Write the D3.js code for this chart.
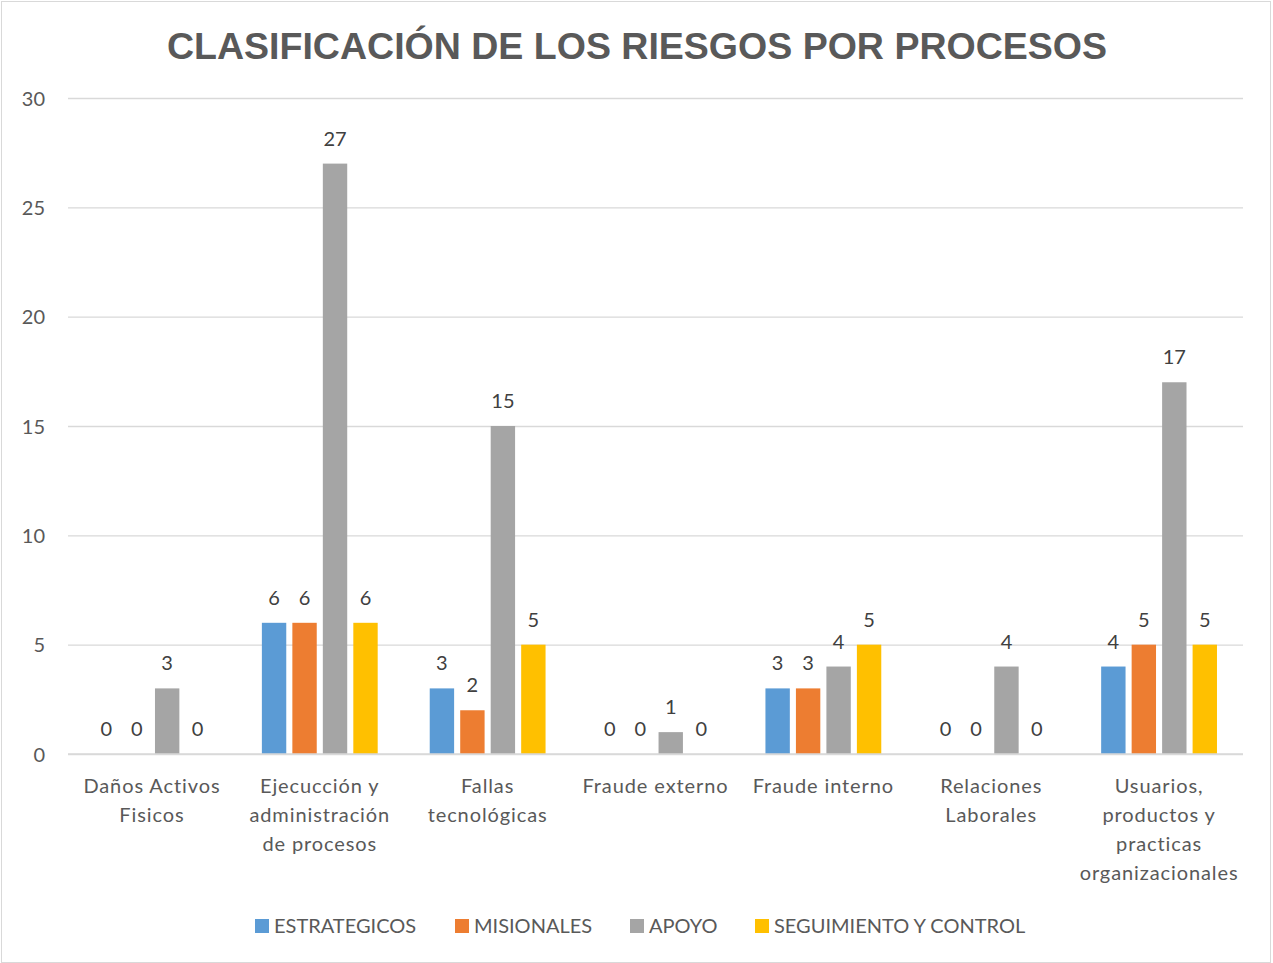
<!DOCTYPE html>
<html>
<head>
<meta charset="utf-8">
<script src="https://cdn.jsdelivr.net/npm/d3@7"></script>
<style>
	body { margin: 0; background: #fff; }
	svg text { font-family: Lato, "Open Sans", sans-serif; }
</style>
</head>
<body>
<div id="chart"></div>
<script>
var categories = [
	["Daños Activos", "Fisicos"],
	["Ejecucción y", "administración", "de procesos"],
	["Fallas", "tecnológicas"],
	["Fraude externo"],
	["Fraude interno"],
	["Relaciones", "Laborales"],
	["Usuarios,", "productos y", "practicas", "organizacionales"]
];
var seriesNames = ["ESTRATEGICOS", "MISIONALES", "APOYO", "SEGUIMIENTO Y CONTROL"];
var seriesColors = ["#5b9bd5", "#ed7d31", "#a5a5a5", "#ffc000"];
var estrategicos = [0, 6, 3, 0, 3, 0, 4];
var misionales = [0, 6, 2, 0, 3, 0, 5];
var apoyo = [3, 27, 15, 1, 4, 4, 17];
var seguimiento = [0, 6, 5, 0, 5, 0, 5];
var yTicks = [0, 5, 10, 15, 20, 25, 30];
var title = "CLASIFICACIÓN DE LOS RIESGOS POR PROCESOS";

var width = 1273, height = 963,
	margin = { top: 98, bottom: 209, left: 68, right: 30 };

var series = [estrategicos, misionales, apoyo, seguimiento];

var svg = d3.select("#chart").append("svg")
	.attr("width", width)
	.attr("height", height);

// frame
svg.append("rect")
	.attr("x", 1.5).attr("y", 1.5)
	.attr("width", width - 4).attr("height", height - 2)
	.attr("fill", "#fff")
	.attr("stroke", "#d9d9d9");

svg.append("text")
	.attr("x", 637)
	.attr("y", 59)
	.attr("text-anchor", "middle")
	.attr("textLength", 940)
	.attr("lengthAdjust", "spacingAndGlyphs")
	.style("font-family", "'Liberation Sans', Arial, sans-serif")
	.style("font-weight", "bold")
	.style("font-size", "36px")
	.style("fill", "#595959")
	.text(title);

var y = d3.scaleLinear()
	.domain([0, 30])
	.range([height - margin.bottom, margin.top]);

var x0 = d3.scaleBand()
	.domain(d3.range(categories.length))
	.range([margin.left, width - margin.right])
	.paddingInner(0.31)
	.paddingOuter(0.155);

var x1 = d3.scaleBand()
	.domain(d3.range(series.length))
	.range([0, x0.bandwidth()])
	.paddingInner(0.2);

// grid
var yAxis = d3.axisLeft(y)
	.tickValues(yTicks)
	.tickSize(-(width - margin.left - margin.right))
	.tickPadding(23);

var gy = svg.append("g")
	.attr("transform", "translate(" + margin.left + ",0)")
	.call(yAxis);
gy.select(".domain").remove();
gy.selectAll(".tick line").attr("stroke", "#d9d9d9").attr("stroke-width", 1.3);
gy.selectAll(".tick text")
	.style("font-size", "20px")
	.style("fill", "#595959")
	.attr("dy", "0.35em");

// bars
var groups = svg.selectAll("g.cat")
	.data(categories)
	.enter().append("g")
	.attr("class", "cat")
	.attr("transform", function(d, i) { return "translate(" + x0(i) + ",0)"; });

groups.each(function(d, ci) {
	var g = d3.select(this);
	series.forEach(function(s, si) {
		var v = s[ci];
		if (v > 0) {
			g.append("rect")
				.attr("x", x1(si))
				.attr("y", y(v))
				.attr("width", x1.bandwidth())
				.attr("height", y(0) - y(v))
				.attr("fill", seriesColors[si]);
		}
		g.append("text")
			.attr("x", x1(si) + x1.bandwidth() / 2)
			.attr("y", y(v) - 18)
			.attr("text-anchor", "middle")
			.style("font-size", "20px")
			.style("fill", "#404040")
			.text(v);
	});
});

// baseline
svg.append("line")
	.attr("x1", margin.left).attr("x2", width - margin.right)
	.attr("y1", y(0)).attr("y2", y(0))
	.attr("stroke", "#d9d9d9").attr("stroke-width", 1.3);

// category labels
categories.forEach(function(lines, i) {
	var t = svg.append("text")
		.attr("text-anchor", "middle")
		.style("font-size", "20px")
		.style("letter-spacing", "0.9px")
		.style("fill", "#595959");
	lines.forEach(function(line, j) {
		t.append("tspan")
			.attr("x", x0(i) + x0.bandwidth() / 2)
			.attr("y", 793 + j * 29)
			.text(line);
	});
});

// legend
var legendX = [255, 455, 630, 755];
var legend = svg.selectAll("g.legend")
	.data(seriesNames)
	.enter().append("g")
	.attr("class", "legend")
	.attr("transform", function(d, i) { return "translate(" + legendX[i] + ",919)"; });
legend.append("rect")
	.attr("width", 14).attr("height", 14)
	.attr("fill", function(d, i) { return seriesColors[i]; });
legend.append("text")
	.attr("x", 19)
	.attr("y", 14)
	.style("font-size", "20px")
	.style("fill", "#595959")
	.text(function(d) { return d; });
</script>
</body>
</html>
